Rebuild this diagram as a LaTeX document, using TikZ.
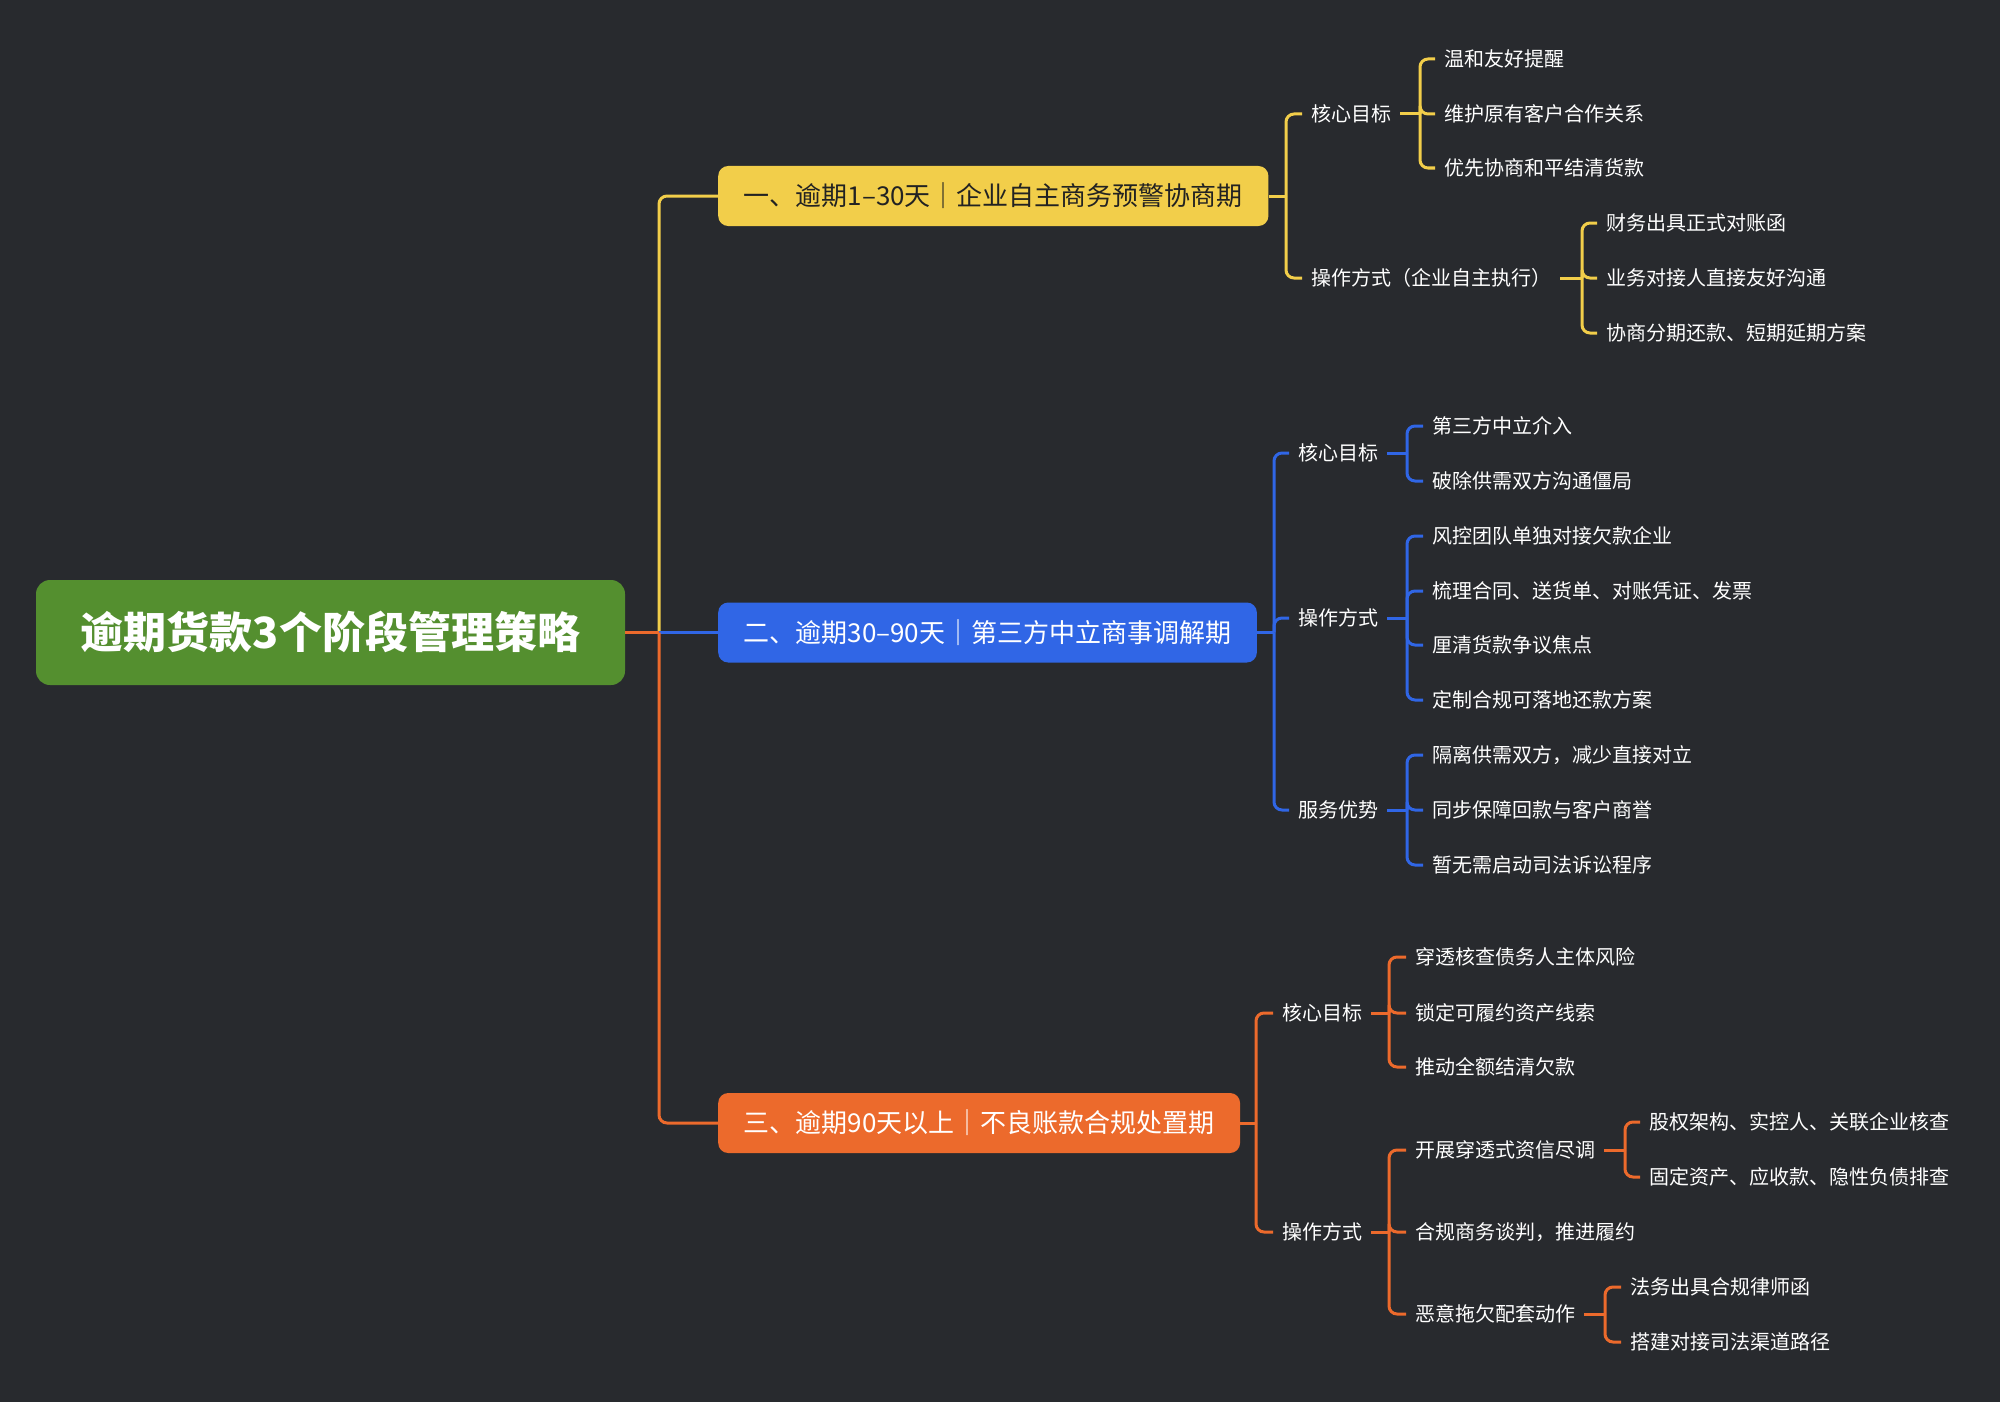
\documentclass[tikz,border=0pt]{standalone}
\usepackage{fontspec}
\setmainfont{Noto Sans CJK SC}
\usetikzlibrary{positioning}
\definecolor{bg}{HTML}{282A2E}
\definecolor{rootgreen}{HTML}{548F2F}
\definecolor{stageyellow}{HTML}{F2CE4A}
\definecolor{stageblue}{HTML}{3066E6}
\definecolor{stageorange}{HTML}{EC6A2C}
\definecolor{darktext}{HTML}{222222}
\tikzstyle{leaf}=[anchor=west, text=white, font=\fontsize{20}{24}\selectfont, inner xsep=9pt, inner ysep=2pt, text height=17.6pt, text depth=2.4pt]
\tikzstyle{stage}=[anchor=west, rounded corners=10pt, font=\fontsize{26}{30}\selectfont, inner xsep=25.5pt, minimum height=60pt, text height=22.9pt, text depth=3.1pt]
\tikzstyle{link}=[line width=3pt, rounded corners=8pt]

\begin{document}
\begin{tikzpicture}[x=1pt, y=-1pt]
	\fill[bg] (0, 0) rectangle (2000, 1402);
	% root and stages
	\node[fill=rootgreen, rounded corners=14pt, text=white, font=\fontsize{43}{50}\selectfont\bfseries, minimum width=589pt, minimum height=105pt, text height=37.8pt, text depth=5.2pt] (root) at (330.5, 632.5) {逾期货款3个阶段管理策略};
	\node[stage, fill=stageyellow, text=darktext] (s1) at (718, 196) {一、逾期1–30天｜企业自主商务预警协商期};
	\node[stage, fill=stageblue, text=white] (s2) at (718, 632.5) {二、逾期30–90天｜第三方中立商事调解期};
	\node[stage, fill=stageorange, text=white] (s3) at (718, 1123) {三、逾期90天以上｜不良账款合规处置期};
	\coordinate (j0) at (659, 632.5);
	\draw[link, stageyellow] (j0) |- (s1.west);
	\draw[link, stageblue] (root.east) -- (s2.west);
	\draw[link, stageorange] (root.east) -- (j0);
	\draw[link, stageorange] (j0) |- (s3.west);

	% stage 1
	\node[leaf] (s1a) at (1302, 114) {核心目标};
	\node[leaf] (s1b) at (1302, 278) {操作方式（企业自主执行）};
	\node[leaf] (s1a1) at (1435, 59) {温和友好提醒};
	\node[leaf] (s1a2) at (1435, 114) {维护原有客户合作关系};
	\node[leaf] (s1a3) at (1435, 168) {优先协商和平结清货款};
	\node[leaf] (s1b1) at (1597, 223) {财务出具正式对账函};
	\node[leaf] (s1b2) at (1597, 278) {业务对接人直接友好沟通};
	\node[leaf] (s1b3) at (1597, 333) {协商分期还款、短期延期方案};
	\coordinate (j1) at (1286, 196);
	\coordinate (j1a) at (1420, 114);
	\coordinate (j1b) at (1582, 278);
	\draw[link, stageyellow] (s1.east) -- (j1);
	\foreach \c in {s1a, s1b} \draw[link, stageyellow] (j1) |- (\c.west);
	\draw[link, stageyellow] (s1a.east) -- (j1a);
	\foreach \c in {s1a1, s1a2, s1a3} \draw[link, stageyellow] (j1a) |- (\c.west);
	\draw[link, stageyellow] (s1b.east) -- (j1b);
	\foreach \c in {s1b1, s1b2, s1b3} \draw[link, stageyellow] (j1b) |- (\c.west);

	% stage 2
	\node[leaf] (s2a) at (1289, 453) {核心目标};
	\node[leaf] (s2b) at (1289, 618) {操作方式};
	\node[leaf] (s2c) at (1289, 810) {服务优势};
	\node[leaf] (s2a1) at (1423, 426) {第三方中立介入};
	\node[leaf] (s2a2) at (1423, 481) {破除供需双方沟通僵局};
	\node[leaf] (s2b1) at (1423, 536) {风控团队单独对接欠款企业};
	\node[leaf] (s2b2) at (1423, 591) {梳理合同、送货单、对账凭证、发票};
	\node[leaf] (s2b3) at (1423, 645) {厘清货款争议焦点};
	\node[leaf] (s2b4) at (1423, 700) {定制合规可落地还款方案};
	\node[leaf] (s2c1) at (1423, 755) {隔离供需双方，减少直接对立};
	\node[leaf] (s2c2) at (1423, 810) {同步保障回款与客户商誉};
	\node[leaf] (s2c3) at (1423, 865) {暂无需启动司法诉讼程序};
	\coordinate (j2) at (1274, 632.5);
	\coordinate (j2a) at (1407, 453);
	\coordinate (j2b) at (1407, 618);
	\coordinate (j2c) at (1407, 810);
	\draw[link, stageblue] (s2.east) -- (j2);
	\foreach \c in {s2a, s2b, s2c} \draw[link, stageblue] (j2) |- (\c.west);
	\draw[link, stageblue] (s2a.east) -- (j2a);
	\foreach \c in {s2a1, s2a2} \draw[link, stageblue] (j2a) |- (\c.west);
	\draw[link, stageblue] (s2b.east) -- (j2b);
	\foreach \c in {s2b1, s2b2, s2b3, s2b4} \draw[link, stageblue] (j2b) |- (\c.west);
	\draw[link, stageblue] (s2c.east) -- (j2c);
	\foreach \c in {s2c1, s2c2, s2c3} \draw[link, stageblue] (j2c) |- (\c.west);

	% stage 3
	\node[leaf] (s3a) at (1273, 1013) {核心目标};
	\node[leaf] (s3b) at (1273, 1232) {操作方式};
	\node[leaf] (s3a1) at (1406, 957) {穿透核查债务人主体风险};
	\node[leaf] (s3a2) at (1406, 1013) {锁定可履约资产线索};
	\node[leaf] (s3a3) at (1406, 1067) {推动全额结清欠款};
	\node[leaf] (s3b1) at (1406, 1150) {开展穿透式资信尽调};
	\node[leaf] (s3b2) at (1406, 1232) {合规商务谈判，推进履约};
	\node[leaf] (s3b3) at (1406, 1314) {恶意拖欠配套动作};
	\node[leaf] (s3b11) at (1640, 1122) {股权架构、实控人、关联企业核查};
	\node[leaf] (s3b12) at (1640, 1177) {固定资产、应收款、隐性负债排查};
	\node[leaf] (s3b31) at (1621, 1287) {法务出具合规律师函};
	\node[leaf] (s3b32) at (1621, 1342) {搭建对接司法渠道路径};
	\coordinate (j3) at (1256, 1123);
	\coordinate (j3a) at (1389, 1013);
	\coordinate (j3b) at (1389, 1232);
	\coordinate (j3b1) at (1625, 1150);
	\coordinate (j3b3) at (1605, 1314);
	\draw[link, stageorange] (s3.east) -- (j3);
	\foreach \c in {s3a, s3b} \draw[link, stageorange] (j3) |- (\c.west);
	\draw[link, stageorange] (s3a.east) -- (j3a);
	\foreach \c in {s3a1, s3a2, s3a3} \draw[link, stageorange] (j3a) |- (\c.west);
	\draw[link, stageorange] (s3b.east) -- (j3b);
	\foreach \c in {s3b1, s3b2, s3b3} \draw[link, stageorange] (j3b) |- (\c.west);
	\draw[link, stageorange] (s3b1.east) -- (j3b1);
	\foreach \c in {s3b11, s3b12} \draw[link, stageorange] (j3b1) |- (\c.west);
	\draw[link, stageorange] (s3b3.east) -- (j3b3);
	\foreach \c in {s3b31, s3b32} \draw[link, stageorange] (j3b3) |- (\c.west);
\end{tikzpicture}
\end{document}
